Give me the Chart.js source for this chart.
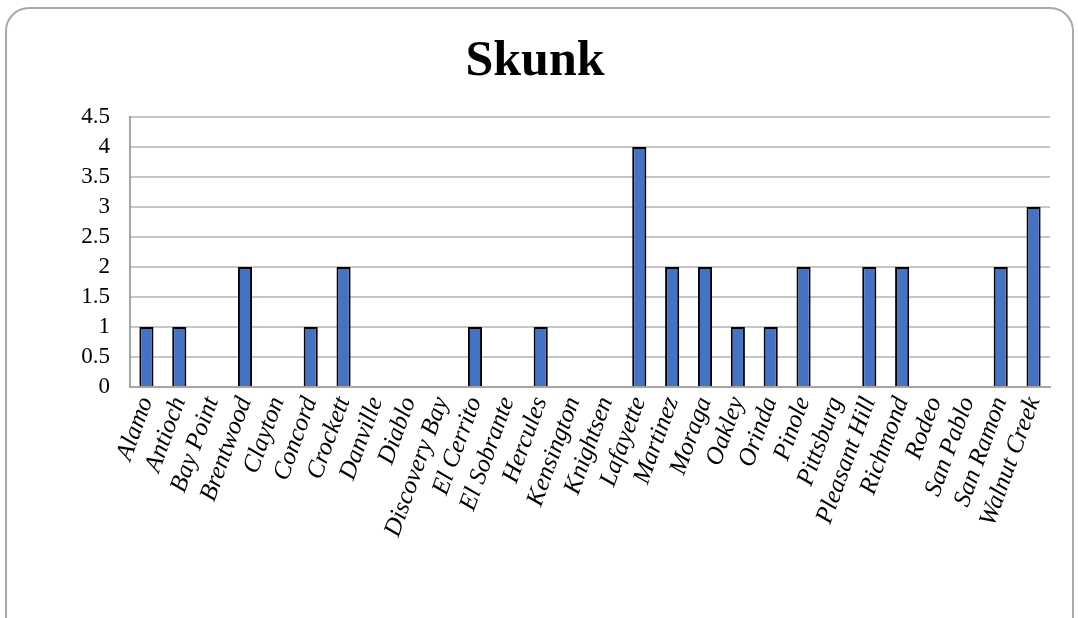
<!DOCTYPE html>
<html>
<head>
<meta charset="utf-8">
<script src="https://cdn.jsdelivr.net/npm/chart.js@4"></script>
<style>
    html, body { margin: 0; padding: 0; background: #fff; overflow: hidden; }
    #frame {
        position: absolute; left: 5px; top: 7px; width: 1069px; height: 640px;
        border: 2px solid #a8a8a8; border-radius: 24px; box-sizing: border-box;
    }
    #wrap { position: absolute; left: 0; top: 0; width: 1078px; height: 618px; }
</style>
</head>
<body>
<div id="frame"></div>
<div id="wrap"><canvas id="report"></canvas></div>
<script>
// dados do gráfico
const cidades = ['Alamo', 'Antioch', 'Bay Point', 'Brentwood', 'Clayton', 'Concord', 'Crockett',
    'Danville', 'Diablo', 'Discovery Bay', 'El Cerrito', 'El Sobrante', 'Hercules', 'Kensington',
    'Knightsen', 'Lafayette', 'Martinez', 'Moraga', 'Oakley', 'Orinda', 'Pinole', 'Pittsburg',
    'Pleasant Hill', 'Richmond', 'Rodeo', 'San Pablo', 'San Ramon', 'Walnut Creek'];
const valores = [1, 1, 0, 2, 0, 1, 2, 0, 0, 0, 1, 0, 1, 0, 0, 4, 2, 2, 1, 1, 2, 0, 2, 2, 0, 0, 2, 3];
const titulo = 'Skunk';

const fonte = "'Liberation Serif', 'DejaVu Serif', serif";

const ctx = document.getElementById('report').getContext('2d');
const report_container = new Chart(ctx, {
    type: 'bar',
    data: {
        labels: cidades,
        datasets: [{
            data: valores,
            backgroundColor: '#4472C4',
            borderColor: '#000000',
            borderWidth: 2,
            borderSkipped: 'bottom',
            barPercentage: 0.43,
            categoryPercentage: 1
        }]
    },
    options: {
        responsive: true,
        maintainAspectRatio: false,
        animation: false,
        layout: { padding: { left: 20, right: 28, top: 0, bottom: 0 } },
        plugins: {
            legend: { display: false },
            tooltip: { enabled: false },
            title: {
                display: true,
                text: titulo,
                color: '#000',
                font: { family: fonte, size: 50, weight: 'bold' },
                padding: { top: 32, bottom: 25 }
            }
        },
        scales: {
            x: {
                grid: { display: false, drawTicks: false },
                border: { color: '#a6a6a6', width: 2 },
                ticks: {
                    color: '#000',
                    font: { family: fonte, size: 25, style: 'italic' },
                    minRotation: 70,
                    maxRotation: 70,
                    autoSkip: false,
                    padding: 6
                },
                afterFit: function (scale) { scale.height = 231; }
            },
            y: {
                min: 0,
                max: 4.5,
                grid: { color: '#c6c6c6', lineWidth: 2, drawTicks: false },
                border: { color: '#a6a6a6', width: 2 },
                ticks: {
                    stepSize: 0.5,
                    autoSkip: false,
                    color: '#000',
                    font: { family: fonte, size: 23 },
                    padding: 20,
                    callback: function (value) { return String(value); }
                },
                afterFit: function (scale) { scale.width = 110; }
            }
        }
    }
});
</script>
</body>
</html>
